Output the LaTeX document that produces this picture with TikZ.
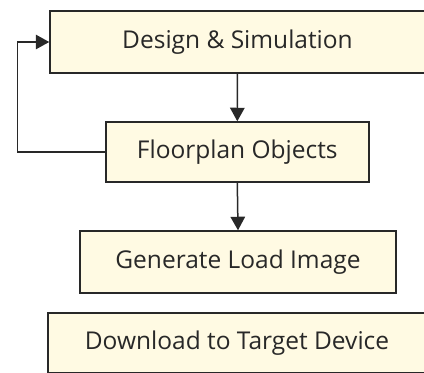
\documentclass[tikz,border=0pt]{standalone}
\usepackage{fontspec}
\setmainfont{Open Sans}
\usetikzlibrary{arrows.meta}
\definecolor{boxfill}{RGB}{255,250,227}
\definecolor{ink}{RGB}{40,40,40}
\tikzset{
  x=1pt, y=1pt,
  stage/.style={draw=ink, fill=boxfill, line width=1.5pt, inner sep=0pt,
    font=\fontsize{24.5}{28}\selectfont, text=ink},
  flow/.style={draw=ink, line width=1.5pt,
    -{Triangle[length=13.5pt,width=14.5pt]}}
}
\begin{document}
\begin{tikzpicture}
\useasboundingbox (0,0) rectangle (424,-373);
\clip (0,0) rectangle (424,-373);
\node[stage, minimum width=375, minimum height=62] (b1) at (237.5,-42) {Design \& Simulation};
\node[stage, minimum width=263, minimum height=60] (b2) at (237.3,-152) {Floorplan Objects};
\node[stage, minimum width=316, minimum height=62] (b3) at (238,-262) {Generate Load Image};
\node[stage, minimum width=378, minimum height=60] (b4) at (237,-343) {Download to Target Device};
\draw[flow] (b1.south) -- (b2.north);
\draw[flow] (b2.south) -- (b3.north);
\draw[flow] (b2.west) -- ++(-87.5,0) |- (b1.west);
\end{tikzpicture}
\end{document}
